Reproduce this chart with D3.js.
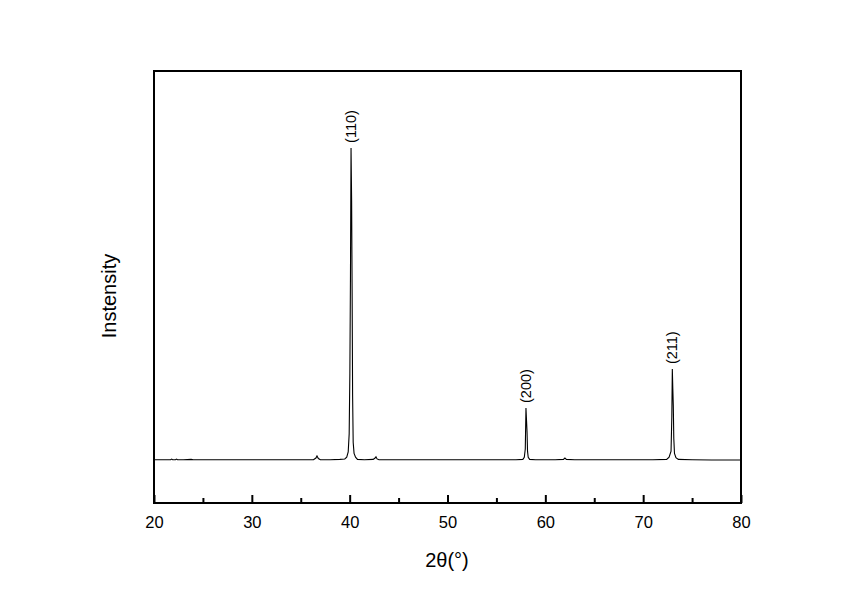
<!DOCTYPE html>
<html>
<head>
<meta charset="utf-8">
<script src="https://cdn.jsdelivr.net/npm/d3@7"></script>
<style>
  html, body { margin: 0; padding: 0; background: #fff; }
  svg { display: block; }
  text { font-family: Arial, "Liberation Sans", sans-serif; fill: #000; }
</style>
</head>
<body>
<svg id="chart" width="861" height="605"></svg>
<script>
// ---- data ----
const twoTheta = [
  20.0, 21.0, 21.7, 21.8, 21.9, 22.2, 22.3, 22.4, 23.0, 23.8, 24.0, 26.0, 28.0, 30.0, 32.0,
  34.0, 36.3, 36.55, 36.66, 36.8, 37.0, 38.0, 39.0, 39.5, 39.7, 39.85, 39.95,
  40.02, 40.08, 40.14, 40.20, 40.25, 40.30, 40.36, 40.45, 40.60, 40.80,
  41.5, 42.4, 42.6, 42.69, 42.8, 43.0, 45.0, 48.0, 50.0, 53.0, 55.0, 57.0,
  57.70, 57.85, 57.95, 58.02, 58.08, 58.13, 58.18, 58.25, 58.40,
  59.0, 61.0, 61.85, 62.0, 62.15, 63.0, 66.0, 69.0, 71.0,
  72.40, 72.65, 72.85, 72.93, 72.98, 73.03, 73.08, 73.13, 73.20, 73.35, 73.60,
  75.0, 77.0, 79.0, 80.0
];
const intensity = [
  100, 100, 100, 101.5, 100, 100, 101.5, 100, 100, 101, 100, 100, 100, 100, 100,
  100, 100, 104, 109, 103, 100, 100, 101, 102, 106, 118, 160,
  300, 520, 822, 700, 493, 250, 140, 115, 106, 101,
  100, 101, 104, 107, 102, 100, 100, 100, 100, 100, 100, 100,
  101, 106, 125, 220, 190, 165, 120, 106, 101,
  100, 100, 101, 104, 101, 100, 100, 100, 100,
  101, 106, 120, 200, 310, 265, 225, 150, 115, 105, 101,
  100, 99.5, 99.5, 99.5
];
const peakLabels = ["(110)", "(200)", "(211)"];
const peakPositions = [40.14, 58.02, 72.98];
const peakHeights = [822, 220, 310];
const majorTicks = [20, 30, 40, 50, 60, 70, 80];
const minorTicks = [25, 35, 45, 55, 65, 75];
const xTitle = "2θ(°)";
const yTitle = "Instensity";

// ---- layout ----
const svg = d3.select("#chart");
const plotL = 154, plotR = 741, plotT = 71, plotB = 503;

const x = d3.scaleLinear().domain([20, 80]).range([plotL, plotR]);
const y = d3.scaleLinear().domain([0, 1000]).range([plotB, plotT]);

const pts = twoTheta.map((t, i) => [t, intensity[i]]);

// data line
svg.append("path")
  .datum(pts)
  .attr("fill", "none")
  .attr("stroke", "#000")
  .attr("stroke-width", 1.1)
  .attr("d", d3.line().x(d => x(d[0])).y(d => y(d[1])));

// frame
svg.append("rect")
  .attr("x", plotL).attr("y", plotT)
  .attr("width", plotR - plotL).attr("height", plotB - plotT)
  .attr("fill", "none").attr("stroke", "#000").attr("stroke-width", 2);

// bottom axis with inward ticks
const axisMajor = d3.axisBottom(x).tickValues(majorTicks).tickSize(-8).tickPadding(16)
  .tickFormat(d3.format("d"));
const gMajor = svg.append("g").attr("transform", `translate(0,${plotB})`).call(axisMajor);
gMajor.select(".domain").remove();
gMajor.selectAll("line").attr("stroke-width", 2);
gMajor.selectAll("text").attr("font-size", 16.5)
  .attr("font-family", "Arial, 'Liberation Sans', sans-serif").attr("dy", "0.71em")
  .attr("y", 13);

const axisMinor = d3.axisBottom(x).tickValues(minorTicks).tickSize(-5).tickFormat("");
const gMinor = svg.append("g").attr("transform", `translate(0,${plotB})`).call(axisMinor);
gMinor.select(".domain").remove();
gMinor.selectAll("line").attr("stroke-width", 2);

// peak labels
peakLabels.forEach((lab, i) => {
  const px = x(peakPositions[i]) + 5, py = y(peakHeights[i]) - 5;
  svg.append("text")
    .attr("transform", `translate(${px},${py}) rotate(-90)`)
    .attr("font-size", 14.5)
    .attr("text-anchor", "start")
    .text(lab);
});

// axis titles
svg.append("text")
  .attr("x", 447).attr("y", 567)
  .attr("text-anchor", "middle")
  .attr("font-size", 20)
  .text(xTitle);

svg.append("text")
  .attr("transform", `translate(116,296) rotate(-90)`)
  .attr("text-anchor", "middle")
  .attr("font-size", 20)
  .text(yTitle);
</script>
</body>
</html>
